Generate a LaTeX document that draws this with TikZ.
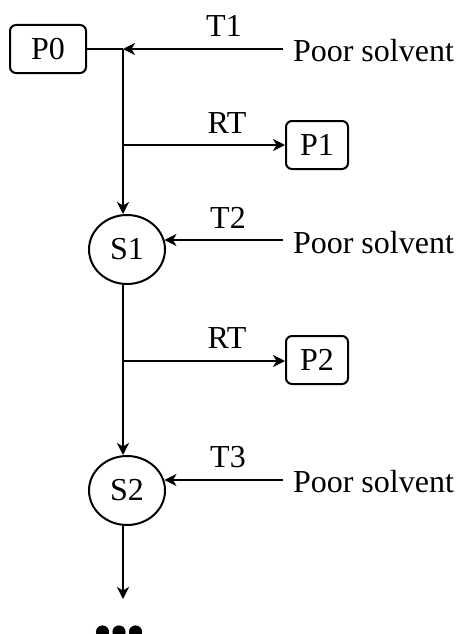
\documentclass[tikz,border=0pt]{standalone}
\usepackage{fontspec}
\setmainfont{Liberation Serif}
\usetikzlibrary{shapes.geometric,arrows.meta}
\begin{document}
\begin{tikzpicture}[x=1pt,y=-1pt,
  line width=2pt,
  every node/.style={font=\fontsize{32}{38}\selectfont},
  pbox/.style={draw,rounded corners=6pt,minimum height=48pt,inner sep=0pt},
  sell/.style={draw,ellipse,minimum width=76pt,minimum height=69pt,inner sep=0pt},
  lbl/.style={anchor=base,inner sep=0pt},
  solv/.style={anchor=base west,inner sep=0pt},
  arr/.style={-{Stealth[length=12pt,width=12pt,inset=3.5pt]}}]
\useasboundingbox (0,0) rectangle (455,634);
\node[pbox,minimum width=76pt] (p0) at (48,49) {P0};
\node[pbox,minimum width=62pt] (p1) at (317,145) {P1};
\node[pbox,minimum width=62pt] (p2) at (317,360) {P2};
\node[sell] (s1) at (127,249.5) {S1};
\node[sell] (s2) at (127,490.5) {S2};
\node[solv] (ps1) at (292,61) {Poor solvent};
\node[solv] (ps2) at (292,253) {Poor solvent};
\node[solv] (ps3) at (292,492) {Poor solvent};
\node[lbl] (t1) at (224,36.5) {T1};
\node[lbl] (rt1) at (227,133) {RT};
\node[lbl] (t2) at (228,228) {T2};
\node[lbl] (rt2) at (227,348) {RT};
\node[lbl] (t3) at (228,467) {T3};
\coordinate (j0) at (123,49);
\coordinate (j1) at (123,145);
\coordinate (j2) at (123,361);
\coordinate (a1) at (283,49);
\coordinate (a2) at (283,240);
\coordinate (a3) at (283,480);
\coordinate (e) at (123,599);
\draw (p0.east |- j0) -- (j0);
\draw[arr] (a1) -- (j0);
\draw[arr] (j0) -- (j0 |- s1.north);
\draw[arr] (j1) -- (p1.west |- j1);
\draw[arr] (a2) -- (a2 -| s1.15);
\draw (j1 |- s1.south) -- (j2);
\draw[arr] (j2) -- (j2 -| p2.west);
\draw[arr] (j2) -- (j2 |- s2.north);
\draw[arr] (a3) -- (a3 -| s2.15);
\draw[arr] (e |- s2.south) -- (e);
\node[inner sep=0pt,minimum size=0pt] (dots) at (119,632) {};
\fill (dots.center) ++(-16.5,0) circle (6.6);
\fill (dots.center) circle (6.6);
\fill (dots.center) ++(16.5,0) circle (6.6);
\end{tikzpicture}
\end{document}
